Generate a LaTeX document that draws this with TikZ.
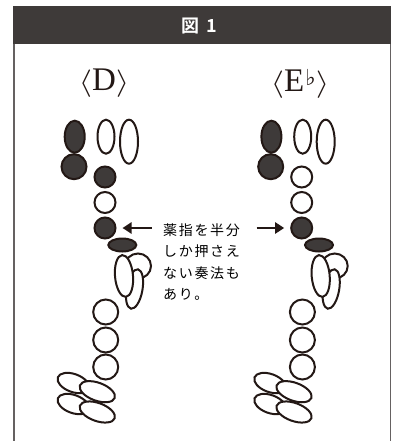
\documentclass[tikz,border=0pt]{standalone}
\usepackage{fontspec}
\setmainfont{Liberation Serif}
\newfontfamily\jpfont{Noto Sans CJK JP}
\newfontfamily\jpbold{Noto Sans CJK JP Bold}
\newfontfamily\symfont{DejaVu Sans}
\usetikzlibrary{shapes.geometric,arrows.meta}
\definecolor{dk}{HTML}{3E3A39}
\definecolor{ln}{HTML}{231815}
\newcommand{\lbr}{\scalebox{1.4}[1.1]{$\langle$}}
\newcommand{\rbr}{\scalebox{1.4}[1.1]{$\rangle$}}
\tikzset{
  key/.style={ellipse,draw=ln,line width=2pt,fill=white,inner sep=0pt,outer sep=0pt,minimum width=#1},
  keyh/.style={minimum height=#1},
  on/.style={fill=dk},
  pointer/.style={draw=ln,line width=2.4pt,-{Triangle[length=9pt,width=11pt]},shorten >=7pt},
  lab/.style={text=ln,font=\fontsize{33}{33}\selectfont,inner sep=0pt,anchor=center},
  note/.style={text=black,anchor=west,inner sep=0pt,font=\jpfont\addfontfeature{LetterSpace=12}\fontsize{14}{15}\selectfont}
}
% #1 name prefix, #2 x shift, #3 style of second stack key
\newcommand{\Fingering}[3]{%
\begin{scope}[xshift=#2pt]
\node[key=20pt,keyh=32pt,on] (#1a) at (74.7,136.7) {};
\node[key=25pt,keyh=25pt,on] (#1b) at (74,166.7) {};
\node[key=17pt,keyh=34pt] (#1c) at (106,136.7) {};
\node[key=18pt,keyh=44pt] (#1d) at (129,141.7) {};
\node[key=21pt,keyh=21pt,#3] (#1e) at (105,177) {};
\node[key=21pt,keyh=21pt] (#1f) at (105,202.5) {};
\node[key=21pt,keyh=21pt,on] (#1g) at (105,228) {};
\node[key=28pt,keyh=13pt,on] (#1h) at (122.3,245) {};
\node[key=26pt,keyh=25pt] (#1i) at (138,266) {};
\node[key=16pt,keyh=40pt,rotate=-10] (#1j) at (134.5,289) {};
\node[key=18pt,keyh=42pt,rotate=5] (#1k) at (124,276) {};
\node[key=25pt,keyh=25pt] (#1l) at (105.7,312) {};
\node[key=25pt,keyh=25pt] (#1m) at (105.7,340) {};
\node[key=25pt,keyh=25pt] (#1n) at (105.7,367) {};
\node[key=33pt,keyh=18pt,rotate=-20] (#1o) at (73.3,383) {};
\node[key=33pt,keyh=18pt,rotate=-20] (#1p) at (73.3,404) {};
\node[key=37pt,keyh=18pt,rotate=-20] (#1q) at (97.3,391.7) {};
\node[key=37pt,keyh=18pt,rotate=-20] (#1r) at (97.3,412) {};
\end{scope}}
\begin{document}
\begin{tikzpicture}[x=1pt,y=-1pt]
\useasboundingbox (0,0) rectangle (393,441);
\fill[white] (0,0) rectangle (393,441);
\fill[dk] (13,6) rectangle (391,44);
\draw[draw=dk!80,line width=2pt] (14.3,44) -- (14.3,441);
\draw[draw=dk!80,line width=1.2pt] (390.6,44) -- (390.6,441);
\node[text=white,inner sep=0pt,font=\jpbold\fontsize{18}{19}\selectfont] (title) at (199.5,26) {図\kern7pt 1};
\node[lab] (labD) at (104,83.5) {\lbr D\rbr};
\node[lab] (labE) at (300,83.5) {\lbr E\kern1pt\raisebox{6pt}{\symfont\bfseries\fontsize{22}{22}\selectfont ♭}\rbr};
\Fingering{l}{0}{on}
\Fingering{r}{196.7}{}
\coordinate (ltail) at (151.7,228);
\coordinate (rtail) at (256.7,228);
\draw[pointer] (ltail) -- (lg);
\draw[pointer] (rtail) -- (rg);
\node[note] (n1) at (163,230) {薬指を半分};
\node[note] (n2) at (163,251.5) {しか押さえ};
\node[note] (n3) at (163,273.5) {ない奏法も};
\node[note] (n4) at (163,294.5) {あり。};
\end{tikzpicture}
\end{document}
